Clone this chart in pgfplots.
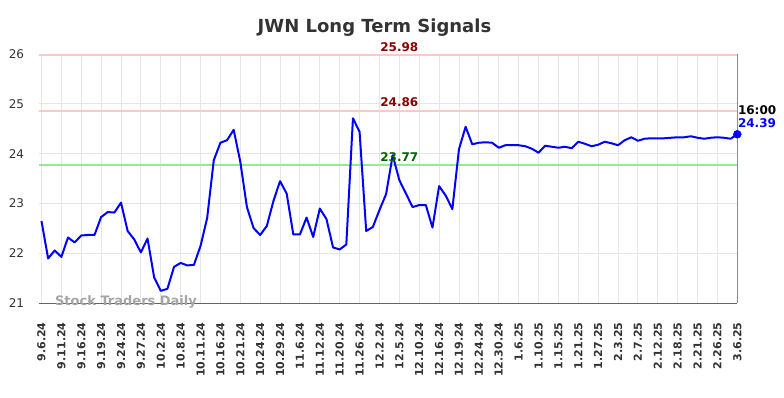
\documentclass[border=0pt]{standalone}
\usepackage{pgfplots}
\pgfplotsset{compat=1.18}
\usepackage{fontspec}
\setmainfont{DejaVu Sans}
\definecolor{txt}{RGB}{51,51,51}
\definecolor{gridc}{RGB}{230,230,230}
\definecolor{axisc}{RGB}{100,100,100}
\definecolor{raxisc}{RGB}{140,140,140}
\definecolor{resline}{RGB}{255,200,200}
\definecolor{supline}{RGB}{144,238,144}
\definecolor{reslab}{RGB}{139,0,0}
\definecolor{suplab}{RGB}{0,100,0}
\definecolor{wm}{RGB}{165,165,165}
\pgfplotstableread{
i v
0 22.65
1 21.90
2 22.06
3 21.93
4 22.32
5 22.22
6 22.36
7 22.37
8 22.37
9 22.73
10 22.83
11 22.82
12 23.02
13 22.45
14 22.28
15 22.02
16 22.30
17 21.52
18 21.25
19 21.29
20 21.73
21 21.81
22 21.76
23 21.77
24 22.15
25 22.71
26 23.87
27 24.22
28 24.27
29 24.48
30 23.84
31 22.93
32 22.51
33 22.37
34 22.55
35 23.05
36 23.45
37 23.20
38 22.38
39 22.38
40 22.72
41 22.33
42 22.90
43 22.69
44 22.12
45 22.08
46 22.18
47 24.71
48 24.44
49 22.45
50 22.53
51 22.87
52 23.19
53 23.97
54 23.47
55 23.20
56 22.93
57 22.97
58 22.97
59 22.52
60 23.35
61 23.16
62 22.89
63 24.09
64 24.54
65 24.19
66 24.22
67 24.23
68 24.22
69 24.12
70 24.17
71 24.17
72 24.17
73 24.15
74 24.10
75 24.02
76 24.16
77 24.14
78 24.12
79 24.14
80 24.11
81 24.24
82 24.20
83 24.15
84 24.18
85 24.24
86 24.21
87 24.17
88 24.27
89 24.33
90 24.26
91 24.30
92 24.31
93 24.31
94 24.31
95 24.32
96 24.33
97 24.33
98 24.35
99 24.32
100 24.30
101 24.32
102 24.33
103 24.32
104 24.30
105 24.39
}\pricedata
\begin{document}
\begin{tikzpicture}[x=1pt,y=1pt]
\useasboundingbox (0,0) rectangle (784,398);
\begin{axis}[
  at={(39.3pt,94.7pt)}, anchor=south west,
  scale only axis, width=698pt, height=249.3pt,
  xmin=-0.33, xmax=105, ymin=21, ymax=26,
  clip=false,
  axis line style={draw=none},
  major tick length=0pt,
  grid=major,
  grid style={color=gridc, line width=0.9pt},
  xtick={0,3,...,105},
  xticklabels={9.6.24,9.11.24,9.16.24,9.19.24,9.24.24,9.27.24,10.2.24,10.8.24,10.11.24,10.16.24,10.21.24,10.24.24,10.29.24,11.6.24,11.12.24,11.20.24,11.26.24,12.2.24,12.5.24,12.10.24,12.16.24,12.19.24,12.24.24,12.30.24,1.6.25,1.10.25,1.15.25,1.21.25,1.27.25,2.3.25,2.7.25,2.12.25,2.18.25,2.21.25,2.26.25,3.6.25},
  ytick={21,22,23,24,25,26},
  /pgf/number format/assume math mode=true,
  xticklabel style={rotate=90, anchor=east, font=\fontsize{11}{13}\selectfont\bfseries, text=txt, inner ysep=0pt, inner xsep=19pt},
  yticklabel style={font=\fontsize{12}{14}\selectfont, text=txt, inner sep=0pt, xshift=-15pt},
]
\addplot[color=resline, line width=2pt, forget plot] coordinates {(-0.33,25.98) (105,25.98)};
\addplot[color=resline, line width=2pt, forget plot] coordinates {(-0.33,24.86) (105,24.86)};
\addplot[color=supline, line width=2pt, forget plot] coordinates {(-0.33,23.77) (105,23.77)};
\draw[color=axisc, line width=1.5pt] (rel axis cs:0,0) -- (rel axis cs:1,0);
\draw[color=raxisc, line width=1.5pt] (rel axis cs:1,0) -- (rel axis cs:1,1);
\addplot[color=blue, line width=2pt, line join=round] table[x=i, y=v] {\pricedata};
\addplot[only marks, mark=*, mark size=4pt, color=blue] coordinates {(105,24.39)};
\node[anchor=south, inner sep=0pt, yshift=3.5pt, text=reslab, font=\fontsize{12}{14}\selectfont\bfseries] at (axis cs:54,25.98) {25.98};
\node[anchor=south, inner sep=0pt, yshift=3.5pt, text=reslab, font=\fontsize{12}{14}\selectfont\bfseries] at (axis cs:54,24.86) {24.86};
\node[anchor=south, inner sep=0pt, yshift=3pt, text=suplab, font=\fontsize{12}{14}\selectfont\bfseries] at (axis cs:54,23.77) {23.77};
\node[anchor=west, inner sep=0pt, xshift=0.5pt, text=black, font=\fontsize{12}{14}\selectfont\bfseries] at (axis cs:105,24.88) {16:00};
\node[anchor=west, inner sep=0pt, xshift=0.5pt, text=blue, font=\fontsize{12}{14}\selectfont\bfseries] at (axis cs:105,24.61) {24.39};
\end{axis}
\node[anchor=base, inner sep=0pt, text=txt, font=\fontsize{18}{22}\selectfont\bfseries] at (374.5,365) {JWN Long Term Signals};
\node[anchor=base, inner sep=0pt, text=wm, font=\fontsize{13}{15}\selectfont\bfseries] at (126,92.5) {Stock Traders Daily};
\end{tikzpicture}
\end{document}
